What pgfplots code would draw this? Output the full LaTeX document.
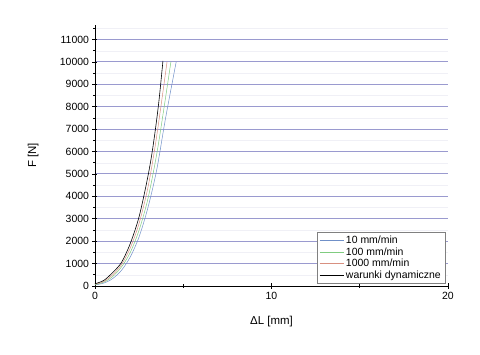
\documentclass[border=0pt]{standalone}
\usepackage{pgfplots}
\pgfplotsset{compat=1.18}
\usepackage{fontspec}
\setmainfont{Liberation Sans}
\definecolor{gridc}{HTML}{9A9ACF}
\definecolor{minorc}{HTML}{F0F0F6}
\definecolor{cblue}{HTML}{7090C8}
\definecolor{cgreen}{HTML}{80CC80}
\definecolor{cred}{HTML}{D89080}
\begin{document}
\begin{tikzpicture}
\path[use as bounding box] (-95bp,-69bp) rectangle (385bp,286bp);
\begin{axis}[
  scale only axis, width=353bp, height=261bp,
  xmin=0, xmax=20, ymin=0, ymax=11650,
  axis x line*=bottom, axis y line*=left,
  axis line style={black, line width=0.8pt, -},
  xtick={0,10,20}, minor xtick={5,15},
  ytick={0,1000,...,11000}, minor ytick={500,1500,...,11500},
  scaled ticks=false,
  tick align=center, tick style={black, line width=0.6pt},
  major tick length=5bp, minor tick length=3bp,
  ymajorgrids, yminorgrids,
  major grid style={gridc, line width=1pt},
  minor grid style={minorc, line width=0.4pt},
  /pgf/number format/assume math mode=true,
  /pgf/number format/1000 sep={},
  ticklabel style={font=\fontsize{10.5}{12}\selectfont},
  xlabel={ΔL [mm]}, ylabel={F [N]},
  label style={font=\fontsize{11.5}{13}\selectfont},
  xlabel style={at={(axis description cs:0.5,0)}, anchor=north, yshift=-27bp},
  ylabel style={at={(axis description cs:0,0.5)}, anchor=south, yshift=53bp},
  legend style={at={(0.9915,0.008)}, anchor=south east, draw=gray, line width=0.5pt,
    font=\fontsize{10.5}{12}\selectfont, row sep=-1.5pt, inner sep=2pt},
  legend cell align=left,
  legend image code/.code={\draw[#1] (0cm,0cm) -- (0.85cm,0cm);},
]
\addplot[cblue, line width=0.5pt, smooth] coordinates {(0,50)(0.5,130)(1,330)(1.5,700)(2,1300)(2.5,2200)(3,3500)(3.5,5200)(4,7500)(4.6,10000)};
\addlegendentry{10 mm/min}
\addplot[cgreen, line width=0.5pt, smooth] coordinates {(0,60)(0.5,170)(1,420)(1.5,850)(2,1500)(2.5,2500)(3,3900)(3.5,5900)(3.9,7900)(4.3,10000)};
\addlegendentry{100 mm/min}
\addplot[cred, line width=0.5pt, smooth] coordinates {(0,80)(0.5,200)(1,500)(1.5,950)(2,1700)(2.5,2800)(3,4400)(3.4,6200)(3.75,8100)(4.08,10000)};
\addlegendentry{1000 mm/min}
\addplot[black, line width=0.6pt, smooth] coordinates {(0,100)(0.5,250)(1,600)(1.5,1050)(2,1900)(2.5,3100)(3,4900)(3.3,6300)(3.6,8100)(3.85,10050)};
\addlegendentry{warunki dynamiczne}
\end{axis}
\end{tikzpicture}
\end{document}
